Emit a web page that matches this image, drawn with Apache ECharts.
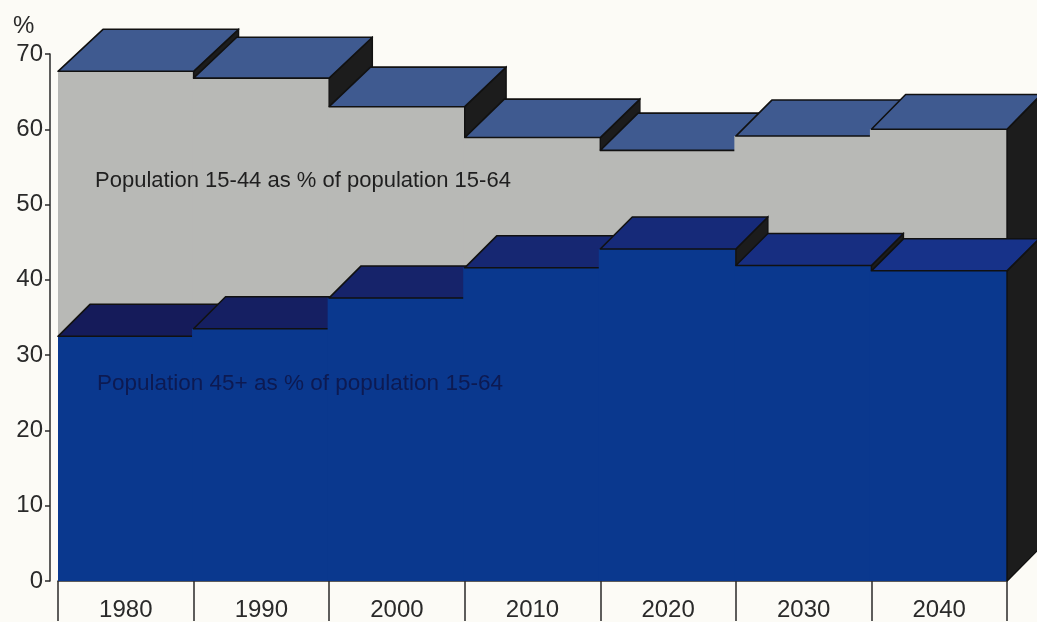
<!DOCTYPE html>
<html>
<head>
<meta charset="utf-8">
<style>
  html, body { margin: 0; padding: 0; background: #fcfbf6; }
  #chart { width: 1037px; height: 622px; }
</style>
<script src="https://cdn.jsdelivr.net/npm/echarts@6/dist/echarts.min.js"></script>
</head>
<body>
<div id="chart"></div>
<script>
// Decades on the horizontal axis
const years = ['1980', '1990', '2000', '2010', '2020', '2030', '2040'];
// Population 15-44 as % of population 15-64
const share15to44 = [67.7, 66.8, 63.0, 58.9, 57.2, 59.1, 60.0];
// Population 45+ as % of population 15-64
const share45plus = [32.5, 33.5, 37.6, 41.6, 44.1, 41.9, 41.2];
// Value axis ticks
const yTicks = [0, 10, 20, 30, 40, 50, 60, 70];

const SIDE = '#1c1c1c';
const EDGE = '#111111';
const FONT = 'Liberation Sans, Arial, sans-serif';

function mix(a, b, t) {
  const pa = [1, 3, 5].map(k => parseInt(a.substr(k, 2), 16));
  const pb = [1, 3, 5].map(k => parseInt(b.substr(k, 2), 16));
  return 'rgb(' + pa.map((v, k) => Math.round(v + (pb[k] - v) * t)).join(',') + ')';
}

// Draws each decade as a block: front face, top face and right side face.
// Blocks are painted left to right so each one hides the side of the one before.
function blockRenderer(values, opts) {
  return function (params, api) {
    const i = api.value(0);
    const v = api.value(1);
    const top = api.coord([i, v]);
    const base = api.coord([i, 0]);
    const w = api.size([1, 0])[0];
    const xl = top[0] - w / 2;
    const xr = top[0] + w / 2;
    const yt = top[1];
    const yb = base[1];
    const d = opts.depth(i);
    const dx = d[0], dy = d[1];
    const n = values.length - 1;
    // where the next block's top meets this block's right edge
    const yNext = i < n ? Math.min(yb, api.coord([i + 1, values[i + 1]])[1]) : yb;
    // overlap the previous block slightly so no seam shows between fronts
    const pad = i > 0 ? 1.5 : 0;
    const children = [
      {
        type: 'rect',
        z2: i * 10,
        shape: { x: xl - pad, y: yt, width: w + pad, height: yb - yt },
        style: { fill: opts.front }
      },
      {
        type: 'polygon',
        z2: i * 10 + 1,
        shape: { points: [[xr, yt], [xr + dx, yt + dy], [xr + dx, yb + dy], [xr, yb]] },
        style: { fill: SIDE }
      },
      {
        type: 'polyline',
        z2: i * 10 + 2,
        shape: { points: [[xr + dx, yb + dy], [xr + dx, yt + dy], [xr, yt], [xr, Math.max(yt, yNext)]] },
        style: { fill: null, stroke: EDGE, lineWidth: 1.4 }
      },
      {
        type: 'polygon',
        z2: i * 10 + 3,
        shape: { points: [[xl, yt], [xr, yt], [xr + dx, yt + dy], [xl + dx, yt + dy]] },
        style: { fill: opts.top(i / n), stroke: EDGE, lineWidth: 1.6, lineJoin: 'round' }
      }
    ];
    if (i === n) {
      children.push({
        type: 'line',
        z2: i * 10 + 4,
        shape: { x1: xr, y1: yb, x2: xr + dx, y2: yb + dy },
        style: { stroke: EDGE, lineWidth: 1.2 }
      });
    }
    return { type: 'group', children: children };
  };
}

const chart = echarts.init(document.getElementById('chart'));

chart.setOption({
  backgroundColor: '#fcfbf6',
  animation: false,
  grid: { left: 58, right: 30, top: 54, bottom: 39 },
  xAxis: {
    type: 'category',
    data: years,
    boundaryGap: true,
    offset: 6,
    axisLine: { lineStyle: { color: '#2a2a2a', width: 1.5 } },
    axisTick: { show: true, length: 40, lineStyle: { color: '#2a2a2a', width: 1.5 } },
    axisLabel: { margin: 11, fontFamily: FONT, fontSize: 24, color: '#2a2a2a' },
    splitLine: { show: false }
  },
  yAxis: {
    type: 'value',
    min: yTicks[0],
    max: yTicks[yTicks.length - 1],
    interval: 10,
    offset: 8,
    axisLine: { show: true, lineStyle: { color: '#2a2a2a', width: 1.5 } },
    axisTick: { show: true, length: 5, lineStyle: { color: '#2a2a2a', width: 1.5 } },
    axisLabel: { margin: 7, fontFamily: FONT, fontSize: 24, color: '#2a2a2a' },
    splitLine: { show: false }
  },
  graphic: [
    {
      type: 'text', left: 13, top: 14, z: 10,
      style: { text: '%', fontFamily: FONT, fontSize: 24, fill: '#2a2a2a' }
    },
    {
      type: 'text', left: 95, top: 170, z: 10,
      style: {
        text: 'Population 15-44 as % of population 15-64',
        fontFamily: FONT, fontSize: 22, fill: '#1f1f1f'
      }
    },
    {
      type: 'text', left: 97, top: 372, z: 10,
      style: {
        text: 'Population 45+ as % of population 15-64',
        fontFamily: FONT, fontSize: 22.5, fill: '#0d1a52'
      }
    }
  ],
  series: [
    {
      name: 'Population 15-44 as % of population 15-64',
      type: 'custom',
      z: 2,
      renderItem: blockRenderer(share15to44, {
        front: '#b8b9b6',
        top: () => '#3f5a90',
        depth: i => [45 - 1.8 * i, -(42 - 1.2 * i)]
      }),
      encode: { x: 0, y: 1 },
      data: years.map((y, i) => [i, share15to44[i]])
    },
    {
      name: 'Population 45+ as % of population 15-64',
      type: 'custom',
      z: 3,
      renderItem: blockRenderer(share45plus, {
        front: '#0a388e',
        top: t => mix('#151b5a', '#173289', t),
        depth: () => [32, -32]
      }),
      encode: { x: 0, y: 1 },
      data: years.map((y, i) => [i, share45plus[i]])
    }
  ]
});
</script>
</body>
</html>
